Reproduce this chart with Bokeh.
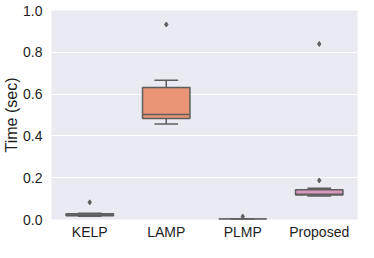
from bokeh.plotting import figure
from bokeh.models import ColumnDataSource, FixedTicker, PrintfTickFormatter, Range1d
from bokeh.embed import file_html
from bokeh.resources import INLINE

categories = ["KELP", "LAMP", "PLMP", "Proposed"]
whisker_low = [0.015, 0.457, 0.0005, 0.112]
q1 = [0.018, 0.483, 0.001, 0.117]
median = [0.021, 0.502, 0.0015, 0.121]
q3 = [0.027, 0.632, 0.002, 0.142]
whisker_high = [0.030, 0.666, 0.003, 0.150]
outliers = [[0.082], [0.933], [0.014], [0.187, 0.840]]
colors = ["#71b7a1", "#e99575", "#95a3c3", "#db96c0"]
y_ticks = [0.0, 0.2, 0.4, 0.6, 0.8, 1.0]

FONT = "Liberation Sans"
GRAY = "#5e5e5e"
BOX_W = 0.62
CAP = 0.155

src = ColumnDataSource(dict(
    cat=categories, wl=whisker_low, q1=q1, med=median, q3=q3, wh=whisker_high,
    color=colors,
    left=[(c, -BOX_W / 2) for c in categories],
    right=[(c, BOX_W / 2) for c in categories],
    capl=[(c, -CAP) for c in categories],
    capr=[(c, CAP) for c in categories],
))

ox, oy = [], []
for c, vals in zip(categories, outliers):
    for v in vals:
        ox.append(c)
        oy.append(v)

p = figure(width=358, height=242, x_range=categories, y_range=Range1d(0, 1),
           output_backend="svg", toolbar_location=None,
           min_border_left=50, min_border_right=1, min_border_top=10, min_border_bottom=20)

p.background_fill_color = "#eaeaf2"
p.border_fill_color = "white"
p.outline_line_color = None
p.xgrid.grid_line_color = None
p.ygrid.grid_line_color = "white"
p.ygrid.grid_line_width = 1.2
p.yaxis.ticker = FixedTicker(ticks=y_ticks)
p.yaxis.formatter = PrintfTickFormatter(format="%.1f")

for ax in (p.xaxis[0], p.yaxis[0]):
    ax.axis_line_color = None
    ax.major_tick_line_color = None
    ax.minor_tick_line_color = None
    ax.major_tick_out = 0
    ax.major_tick_in = 0
    ax.minor_tick_out = 0
    ax.minor_tick_in = 0
    ax.major_label_text_font = FONT
    ax.major_label_text_font_size = "14px"
    ax.major_label_text_color = "#1e1e1e"
p.xaxis.major_label_standoff = 4
p.yaxis.major_label_standoff = 9
p.yaxis.axis_label = "Time (sec)"
p.yaxis.axis_label_text_font = FONT
p.yaxis.axis_label_text_font_size = "16px"
p.yaxis.axis_label_text_font_style = "normal"
p.yaxis.axis_label_text_color = "#1e1e1e"
p.yaxis.axis_label_standoff = 0

# whiskers
p.segment(x0="cat", y0="q3", x1="cat", y1="wh", source=src, line_color=GRAY, line_width=1.5)
p.segment(x0="cat", y0="q1", x1="cat", y1="wl", source=src, line_color=GRAY, line_width=1.5)
# caps
p.segment(x0="capl", y0="wh", x1="capr", y1="wh", source=src, line_color=GRAY, line_width=1.5)
p.segment(x0="capl", y0="wl", x1="capr", y1="wl", source=src, line_color=GRAY, line_width=1.5)
# boxes
p.vbar(x="cat", width=BOX_W, bottom="q1", top="q3", source=src,
       fill_color="color", line_color=GRAY, line_width=1.5)
# medians
p.segment(x0="left", y0="med", x1="right", y1="med", source=src, line_color=GRAY, line_width=1.5)
# outliers
p.scatter(x=ox, y=oy, marker="diamond", size=5, fill_color=GRAY, line_color=GRAY)

open("out.html", "w").write(file_html(p, INLINE))
